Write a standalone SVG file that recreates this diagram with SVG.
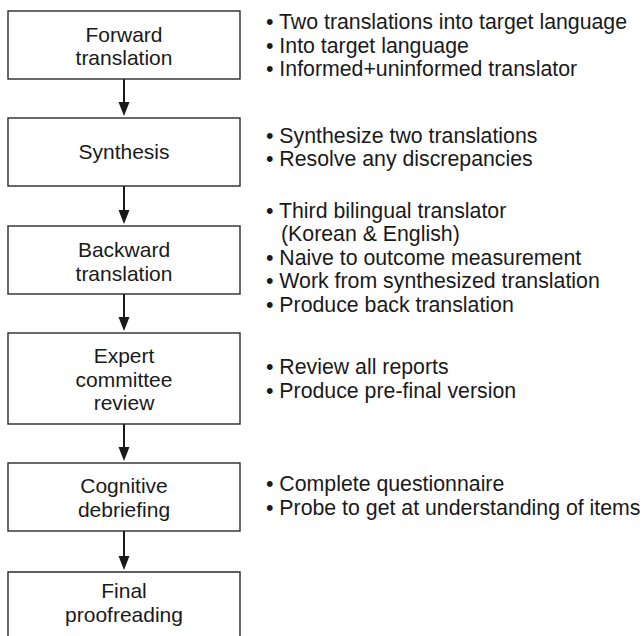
<svg xmlns="http://www.w3.org/2000/svg" width="643" height="636" viewBox="0 0 643 636">
<style>
  .box{fill:#fff;stroke:#2a2a2a;stroke-width:1.4}
  .lbl{font-family:"Liberation Sans",Arial,sans-serif;font-size:21px;fill:#1a1a1a;text-anchor:middle}
  .note{font-family:"Liberation Sans",Arial,sans-serif;font-size:21.3px;fill:#1a1a1a}
  .conn{stroke:#1a1a1a;stroke-width:2;fill:none}
  .head{fill:#1a1a1a}
</style>
<rect width="643" height="636" fill="#fff"/>
<g id="connectors">
  <line class="conn" x1="124" y1="79" x2="124" y2="103"/><path class="head" d="M118.5,102 L129.5,102 L124,116 Z"/>
  <line class="conn" x1="124" y1="186" x2="124" y2="211"/><path class="head" d="M118.5,210 L129.5,210 L124,224 Z"/>
  <line class="conn" x1="124" y1="294" x2="124" y2="318"/><path class="head" d="M118.5,317 L129.5,317 L124,331 Z"/>
  <line class="conn" x1="124" y1="424" x2="124" y2="448"/><path class="head" d="M118.5,447 L129.5,447 L124,461 Z"/>
  <line class="conn" x1="124" y1="531" x2="124" y2="557"/><path class="head" d="M118.5,556 L129.5,556 L124,570 Z"/>
</g>
<g id="forward">
  <rect class="box" x="8" y="11" width="232" height="68"/>
  <text class="lbl" x="124" y="41.5">Forward</text>
  <text class="lbl" x="124" y="65">translation</text>
  <text class="note" x="266" y="29">• Two translations into target language</text>
  <text class="note" x="266" y="52.5">• Into target language</text>
  <text class="note" x="266" y="76">• Informed+uninformed translator</text>
</g>
<g id="synthesis">
  <rect class="box" x="8" y="118" width="232" height="68"/>
  <text class="lbl" x="124" y="158.5">Synthesis</text>
  <text class="note" x="266" y="142.5">• Synthesize two translations</text>
  <text class="note" x="266" y="166">• Resolve any discrepancies</text>
</g>
<g id="backward">
  <rect class="box" x="8" y="226" width="232" height="68"/>
  <text class="lbl" x="124" y="257">Backward</text>
  <text class="lbl" x="124" y="280.5">translation</text>
  <text class="note" x="266" y="217.5">• Third bilingual translator</text>
  <text class="note" x="281" y="241">(Korean &amp; English)</text>
  <text class="note" x="266" y="264.5">• Naive to outcome measurement</text>
  <text class="note" x="266" y="288">• Work from synthesized translation</text>
  <text class="note" x="266" y="311.5">• Produce back translation</text>
</g>
<g id="expert">
  <rect class="box" x="8" y="333" width="232" height="91"/>
  <text class="lbl" x="124" y="363">Expert</text>
  <text class="lbl" x="124" y="386.5">committee</text>
  <text class="lbl" x="124" y="410">review</text>
  <text class="note" x="266" y="374">• Review all reports</text>
  <text class="note" x="266" y="397.5">• Produce pre-final version</text>
</g>
<g id="cognitive">
  <rect class="box" x="8" y="463" width="232" height="68"/>
  <text class="lbl" x="124" y="493">Cognitive</text>
  <text class="lbl" x="124" y="516.5">debriefing</text>
  <text class="note" x="266" y="491">• Complete questionnaire</text>
  <text class="note" x="266" y="514.5">• Probe to get at understanding of items</text>
</g>
<g id="final">
  <path class="box" d="M8,640 L8,572 L240,572 L240,640"/>
  <text class="lbl" x="124" y="598">Final</text>
  <text class="lbl" x="124" y="622">proofreading</text>
</g>
</svg>
